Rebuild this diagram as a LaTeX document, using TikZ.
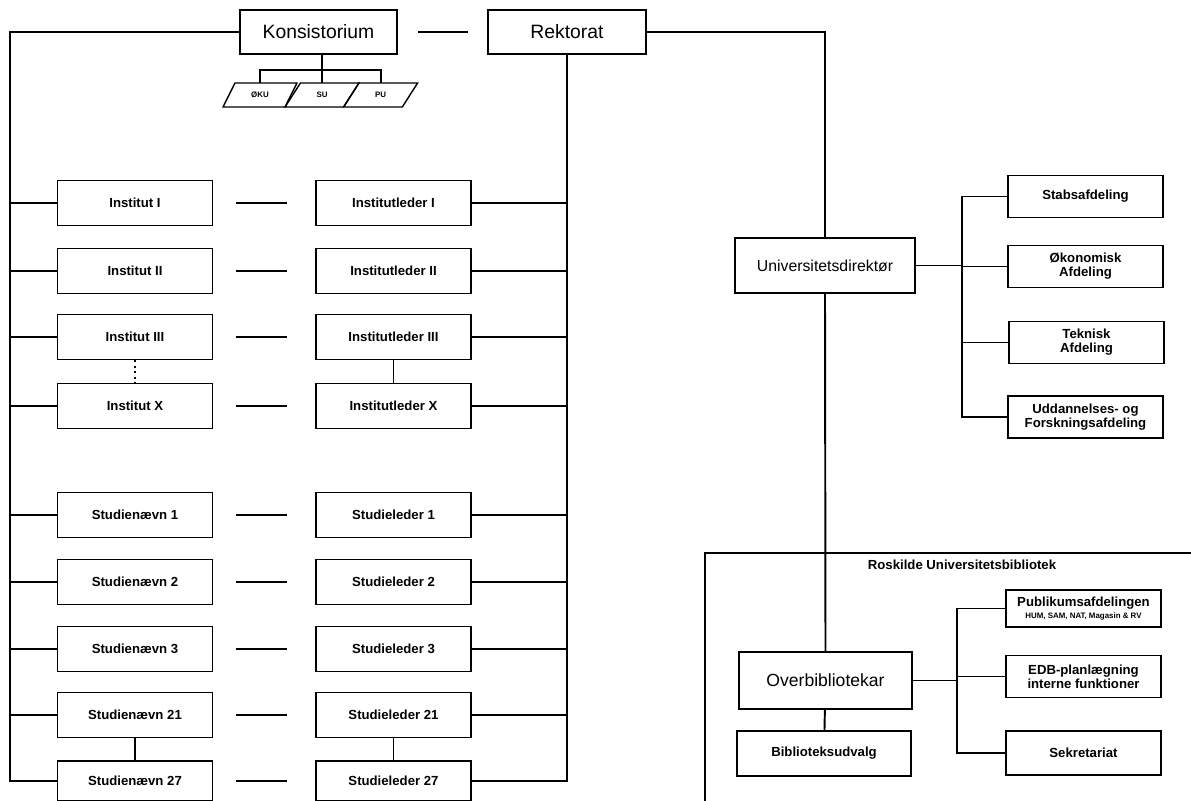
\documentclass[tikz,border=0pt]{standalone}
\usepackage{fontspec}
\setmainfont{Liberation Sans}
\usetikzlibrary{shapes.geometric}
\tikzset{
  link/.style={line width=1.1pt},
  gap/.style={link, shorten <=0.45cm, shorten >=0.56cm},
  orgbox/.style={draw, line width=1.1pt, inner sep=1pt, align=center,
    font=\bfseries\fontsize{7.5}{8}\selectfont, minimum width=3.1cm, minimum height=0.9cm},
  topbox/.style={orgbox, font=\fontsize{11}{12}\selectfont, minimum width=3.15cm, minimum height=0.88cm},
  afdbox/.style={orgbox, minimum height=0.84cm},
  udvalg/.style={draw, line width=0.8pt, trapezium, trapezium left angle=55, trapezium right angle=125,
    trapezium stretches=true, minimum width=1.48cm, minimum height=0.48cm, inner sep=0pt, outer sep=0pt,
    font=\bfseries\fontsize{4.5}{5}\selectfont}
}
\begin{document}
\begin{tikzpicture}[x=0.02cm, y=-0.02cm]
  \useasboundingbox (0,0) rectangle (1191,801);
  \node[topbox] (kons) at (318.5,32) {Konsistorium};
  \node[topbox] (rekt) at (567,32) {Rektorat};
  \draw[link, shorten <=0.4cm, shorten >=0.38cm] (kons) -- (rekt);
  \node[udvalg] (u1) at (260,95) {ØKU};
  \node[udvalg, anchor=bottom left corner] (u2) at (u1.bottom right corner) {SU};
  \node[udvalg, anchor=bottom left corner] (u3) at (u2.bottom right corner) {PU};
  \coordinate (kbar) at (u2.center |- 0,70);
  \draw[link] (kons.south -| kbar) -- (kbar);
  \draw[link] (u1.center |- u1.north) |- (kbar) -| (u3.center |- u3.north);
  \draw[link] (kbar) -- (u2.center |- u2.north);

  \node[orgbox] (i1) at (135,203) {Institut I};
  \node[orgbox] (i2) at (135,271) {Institut II};
  \node[orgbox] (i3) at (135,337) {Institut III};
  \node[orgbox] (i4) at (135,406) {Institut X};
  \node[orgbox] (il1) at (393.5,203) {Institutleder I};
  \node[orgbox] (il2) at (393.5,271) {Institutleder II};
  \node[orgbox] (il3) at (393.5,337) {Institutleder III};
  \node[orgbox] (il4) at (393.5,406) {Institutleder X};
  \draw[link, dotted] (i3) -- (i4);
  \draw[link] (il3) -- (il4);

  \node[orgbox] (sn1) at (135,515) {Studienævn 1};
  \node[orgbox] (sn2) at (135,582) {Studienævn 2};
  \node[orgbox] (sn3) at (135,649) {Studienævn 3};
  \node[orgbox] (sn4) at (135,715) {Studienævn 21};
  \node[orgbox, minimum height=0.8cm] (sn5) at (135,781) {Studienævn 27};
  \node[orgbox] (sl1) at (393.5,515) {Studieleder 1};
  \node[orgbox] (sl2) at (393.5,582) {Studieleder 2};
  \node[orgbox] (sl3) at (393.5,649) {Studieleder 3};
  \node[orgbox] (sl4) at (393.5,715) {Studieleder 21};
  \node[orgbox, minimum height=0.8cm] (sl5) at (393.5,781) {Studieleder 27};
  \draw[link] (sn4) -- (sn5);
  \draw[link] (sl4) -- (sl5);

  \draw[gap] (i1) -- (il1);
  \draw[gap] (i2) -- (il2);
  \draw[gap] (i3) -- (il3);
  \draw[gap] (i4) -- (il4);
  \draw[gap] (sn1) -- (sl1);
  \draw[gap] (sn2) -- (sl2);
  \draw[gap] (sn3) -- (sl3);
  \draw[gap] (sn4) -- (sl4);
  \draw[gap] (sn5) -- (sl5);

  \coordinate (lspine) at (10,0);
  \draw[link] (kons.west) -| (sn5.west -| lspine) -- (sn5.west);
  \draw[link] (i1.west) -- (i1.west -| lspine);
  \draw[link] (i2.west) -- (i2.west -| lspine);
  \draw[link] (i3.west) -- (i3.west -| lspine);
  \draw[link] (i4.west) -- (i4.west -| lspine);
  \draw[link] (sn1.west) -- (sn1.west -| lspine);
  \draw[link] (sn2.west) -- (sn2.west -| lspine);
  \draw[link] (sn3.west) -- (sn3.west -| lspine);
  \draw[link] (sn4.west) -- (sn4.west -| lspine);

  \draw[link] (rekt.south) -- (rekt.south |- sl5.east) -- (sl5.east);
  \draw[link] (il1.east) -- (il1.east -| rekt.south);
  \draw[link] (il2.east) -- (il2.east -| rekt.south);
  \draw[link] (il3.east) -- (il3.east -| rekt.south);
  \draw[link] (il4.east) -- (il4.east -| rekt.south);
  \draw[link] (sl1.east) -- (sl1.east -| rekt.south);
  \draw[link] (sl2.east) -- (sl2.east -| rekt.south);
  \draw[link] (sl3.east) -- (sl3.east -| rekt.south);
  \draw[link] (sl4.east) -- (sl4.east -| rekt.south);

  \node[orgbox, font=\fontsize{9}{10}\selectfont, minimum width=3.6cm, minimum height=1.1cm] (udir) at (825,265.5) {Universitetsdirektør};
  \draw[link] (rekt.east) -| (udir.north);
  \node[afdbox] (a1) at (1085.5,196.5) {Stabsafdeling};
  \node[afdbox] (a2) at (1085.5,266.5) {Økonomisk\\Afdeling};
  \node[afdbox] (a3) at (1086.5,342.5) {Teknisk\\Afdeling};
  \node[afdbox] (a4) at (1085.5,417) {Uddannelses- og\\Forskningsafdeling};
  \coordinate (ubar) at (962,0);
  \draw[link] (udir.east) -- (udir.east -| ubar);
  \draw[link] (a1.west) -| (ubar |- a4.west) -- (a4.west);
  \draw[link] (a2.west) -- (a2.west -| ubar);
  \draw[link] (a3.west) -- (a3.west -| ubar);

  \draw[link] (1191,553) -| (705,801);
  \node[font=\bfseries\fontsize{7.5}{8}\selectfont] (rub) at (962,565) {Roskilde Universitetsbibliotek};
  \node[orgbox, font=\fontsize{10}{11}\selectfont, minimum width=3.46cm, minimum height=1.14cm] (obib) at (825.5,680.5) {Overbibliotekar};
  \node[orgbox, minimum width=3.48cm] (budv) at (824,753.5) {Biblioteksudvalg};
  \draw[link] (udir.south) -- (obib.north);
  \draw[link] (obib) -- (budv);
  \node[afdbox, minimum height=0.74cm] (b1) at (1083.5,608.5) {Publikumsafdelingen\\[-1pt]{\fontsize{4.5}{5}\selectfont HUM, SAM, NAT, Magasin \& RV}};
  \node[afdbox] (b2) at (1083.5,676.5) {EDB-planlægning\\interne funktioner};
  \node[afdbox, minimum height=0.88cm] (b3) at (1083.5,753) {Sekretariat};
  \coordinate (bbar) at (957,0);
  \draw[link] (obib.east) -- (obib.east -| bbar);
  \draw[link] (b1.west) -| (bbar |- b3.west) -- (b3.west);
  \draw[link] (b2.west) -- (b2.west -| bbar);
\end{tikzpicture}
\end{document}
